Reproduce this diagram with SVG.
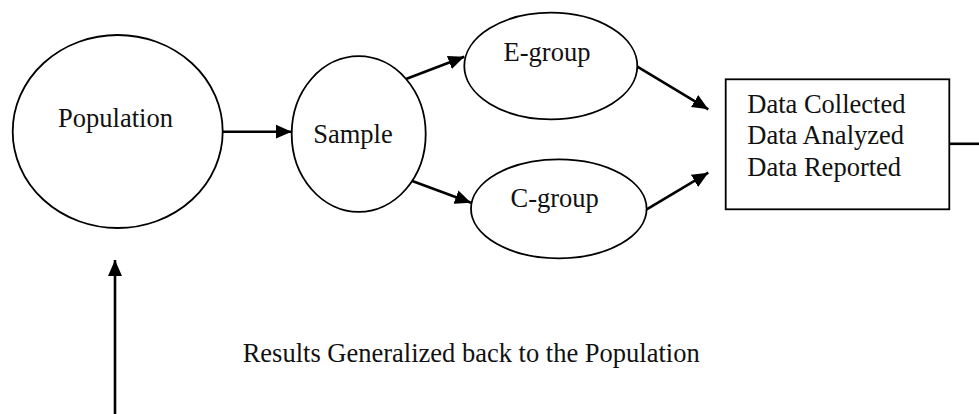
<svg xmlns="http://www.w3.org/2000/svg" width="979" height="414" viewBox="0 0 979 414">
<defs>
<style>
.node{fill:#fff;stroke:#000;stroke-width:1.8}
.box{fill:#fff;stroke:#000;stroke-width:1.8}
.lbl{font-family:"Liberation Serif","Times New Roman",serif;font-size:26.5px;fill:#111}
.edge{fill:none;stroke:#000;stroke-width:2.6}
</style>
<marker id="ah" markerUnits="userSpaceOnUse" markerWidth="17" markerHeight="15" refX="16" refY="7.5" orient="auto" viewBox="0 0 17 15">
<path d="M0,0.5 L16,7.5 L0,14.5 z" fill="#000"/>
</marker>
</defs>
<rect width="979" height="414" fill="#fff"/>
<g id="population">
<ellipse class="node" cx="117.7" cy="131.5" rx="105" ry="96.5"/>
<text class="lbl" x="115.5" y="127.2" text-anchor="middle">Population</text>
</g>
<g id="sample">
<ellipse class="node" cx="358.7" cy="134" rx="67" ry="77.8"/>
<text class="lbl" x="353" y="142.7" text-anchor="middle">Sample</text>
</g>
<g id="egroup">
<ellipse class="node" cx="550.8" cy="66" rx="86.5" ry="53.3"/>
<text class="lbl" x="547" y="61" text-anchor="middle">E-group</text>
</g>
<g id="cgroup">
<ellipse class="node" cx="558.8" cy="208.8" rx="87.8" ry="49.5"/>
<text class="lbl" x="554.7" y="206.7" text-anchor="middle">C-group</text>
</g>
<g id="data">
<rect class="box" x="725.7" y="79.3" width="223.6" height="130"/>
<text class="lbl" x="747.3" y="113.3">Data Collected</text>
<text class="lbl" x="747.3" y="144.3">Data Analyzed</text>
<text class="lbl" x="747.3" y="176">Data Reported</text>
</g>
<g id="results-label">
<text class="lbl" x="242.7" y="361.7">Results Generalized back to the Population</text>
</g>
<g id="connectors">
<line class="edge" x1="223" y1="131.7" x2="291.7" y2="131.7" marker-end="url(#ah)"/>
<line class="edge" x1="406" y1="79" x2="464.3" y2="56.7" marker-end="url(#ah)"/>
<line class="edge" x1="412.3" y1="181" x2="471" y2="202.7" marker-end="url(#ah)"/>
<line class="edge" x1="637.3" y1="66.7" x2="708.3" y2="109.3" marker-end="url(#ah)"/>
<line class="edge" x1="646.7" y1="209.3" x2="708.3" y2="172.7" marker-end="url(#ah)"/>
<line class="edge" x1="949.3" y1="143.8" x2="979" y2="143.8"/>
<line class="edge" x1="115" y1="414" x2="115" y2="260" marker-end="url(#ah)"/>
</g>
</svg>
